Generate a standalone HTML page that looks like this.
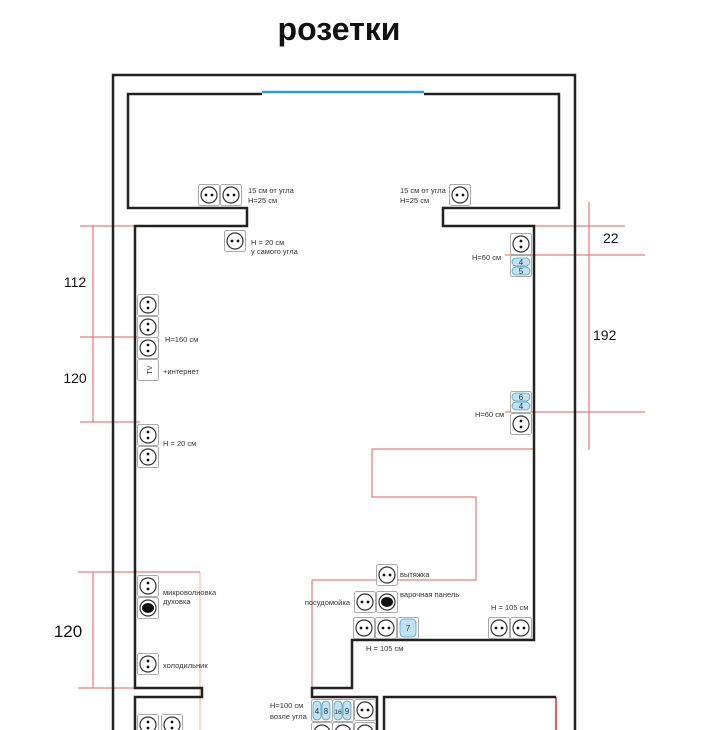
<!DOCTYPE html>
<html><head><meta charset="utf-8"><style>
html,body{margin:0;padding:0;background:#fff}
svg{display:block}
text{font-family:"Liberation Sans",sans-serif;fill:#333}
</style></head><body>
<svg width="720" height="730" viewBox="0 0 720 730" xmlns="http://www.w3.org/2000/svg">
<defs>
<g id="oh"><rect x="0.5" y="0.5" width="21" height="21" rx="2" fill="#fff" stroke="#aaa" stroke-width="1"/><circle cx="11" cy="11" r="8" fill="none" stroke="#333" stroke-width="1.2"/><circle cx="8" cy="11" r="1.4" fill="#111"/><circle cx="14" cy="11" r="1.4" fill="#111"/></g>
<g id="ov"><rect x="0.5" y="0.5" width="21" height="21" rx="2" fill="#fff" stroke="#aaa" stroke-width="1"/><circle cx="11" cy="11" r="8" fill="none" stroke="#333" stroke-width="1.2"/><circle cx="11" cy="8" r="1.4" fill="#111"/><circle cx="11" cy="14" r="1.4" fill="#111"/></g>
<g id="ob"><rect x="0.5" y="0.5" width="21" height="21" rx="2" fill="#fff" stroke="#aaa" stroke-width="1"/><circle cx="11" cy="11" r="8" fill="none" stroke="#333" stroke-width="1.2"/><ellipse cx="11" cy="11" rx="6" ry="5" fill="#111"/></g>
</defs>
<text x="339" y="40" text-anchor="middle" font-size="32" font-weight="bold" style="fill:#111">розетки</text>

<!-- red dimension lines -->
<g stroke="#e06060" stroke-width="1" fill="none">
<line x1="93" y1="226" x2="93" y2="422"/>
<line x1="80" y1="226" x2="135" y2="226"/>
<line x1="80" y1="337" x2="140" y2="337"/>
<line x1="80" y1="422" x2="140" y2="422"/>
<line x1="93" y1="572" x2="93" y2="688"/>
<line x1="78" y1="572" x2="200" y2="572"/>
<line x1="78" y1="688" x2="145" y2="688"/>
<line x1="200" y1="572" x2="200" y2="730" stroke="#f0b0a0"/>
<line x1="589" y1="202" x2="589" y2="450"/>
<line x1="487" y1="226" x2="625" y2="226"/>
<line x1="505" y1="255" x2="645" y2="255"/>
<line x1="505" y1="412" x2="645" y2="412"/>
<polyline points="534,449 372,449 372,497 476,497 476,580 312,580 312,697"/>
<line x1="556" y1="697" x2="556" y2="730" stroke-width="2"/>
</g>
<text x="75" y="287" text-anchor="middle" font-size="14" style="fill:#111">112</text>
<text x="75" y="383" text-anchor="middle" font-size="14" style="fill:#111">120</text>
<text x="68" y="637" text-anchor="middle" font-size="17" style="fill:#111">120</text>
<text x="603" y="243" font-size="14" style="fill:#111">22</text>
<text x="593" y="340" font-size="14" style="fill:#111">192</text>

<!-- walls -->
<g stroke="#222" stroke-width="2.5" fill="none">
<polyline points="113,730 113,75 575,75 575,730"/>
<polyline points="262,94 128,94 128,208 247,208 247,226 135,226 135,688 202,688 202,697 135,697 135,730"/>
<polyline points="424,94 559,94 559,208 443,208 443,226 534,226 534,640 352,640 352,688 312,688 312,697 377,697 377,730"/>
<polyline points="384,730 384,697 556,697"/>
</g>
<line x1="262" y1="92" x2="424" y2="92" stroke="#3a9ad8" stroke-width="2.5"/>

<!-- top outlets -->
<use href="#oh" x="198" y="184"/><use href="#oh" x="220" y="184"/>
<text x="248" y="193" font-size="7.5">15 см от угла</text><text x="248" y="203" font-size="7.5">H=25 см</text>
<use href="#oh" x="449" y="184"/>
<text x="400" y="193" font-size="7.5">15 см от угла</text><text x="400" y="203" font-size="7.5">H=25 см</text>
<use href="#oh" x="224" y="230"/>
<text x="251" y="245" font-size="7.5">H = 20 см</text><text x="251" y="254" font-size="7.5">у самого угла</text>

<!-- right wall -->
<use href="#ov" x="510" y="233"/>
<rect x="510.5" y="255.5" width="21" height="21" rx="2" fill="#fff" stroke="#aaa"/>
<rect x="512" y="258" width="18" height="8" rx="4" fill="#bfe2f5" stroke="#5a9cc0" stroke-width=".8"/>
<rect x="512" y="267" width="18" height="8" rx="4" fill="#bfe2f5" stroke="#5a9cc0" stroke-width=".8"/>
<text x="521" y="265" font-size="8" text-anchor="middle">4</text><text x="521" y="274" font-size="8" text-anchor="middle">5</text>
<text x="472" y="260" font-size="7.5">H=60 см</text>
<rect x="510.5" y="391.5" width="21" height="21" rx="2" fill="#fff" stroke="#aaa"/>
<rect x="512" y="393" width="18" height="8" rx="4" fill="#bfe2f5" stroke="#5a9cc0" stroke-width=".8"/>
<rect x="512" y="402" width="18" height="8" rx="4" fill="#bfe2f5" stroke="#5a9cc0" stroke-width=".8"/>
<text x="521" y="400" font-size="8" text-anchor="middle">6</text><text x="521" y="409" font-size="8" text-anchor="middle">4</text>
<use href="#ov" x="510" y="413"/>
<text x="475" y="417" font-size="7.5">H=60 см</text>

<!-- left wall -->
<use href="#ov" x="137" y="294"/><use href="#ov" x="137" y="316"/><use href="#ov" x="137" y="337"/>
<rect x="137.5" y="359.5" width="21" height="21" rx="2" fill="#fff" stroke="#aaa"/>
<text x="0" y="0" font-size="7" transform="translate(152,370) rotate(-90)" text-anchor="middle">TV</text>
<text x="165" y="342" font-size="7.5">H=160 см</text>
<text x="163" y="374" font-size="7.5">+интернет</text>
<use href="#ov" x="137" y="424"/><use href="#ov" x="137" y="446"/>
<text x="163" y="446" font-size="7.5">H = 20 см</text>
<use href="#ov" x="137" y="575"/><use href="#ob" x="137" y="597"/>
<text x="163" y="595" font-size="7.5">микроволновка</text><text x="163" y="604" font-size="7.5">духовка</text>
<use href="#ov" x="137" y="653"/>
<text x="163" y="668" font-size="7.5">холодильник</text>
<use href="#ov" x="137" y="714"/><use href="#ov" x="161" y="714"/>

<!-- kitchen -->
<use href="#oh" x="376" y="564"/>
<text x="400" y="577" font-size="7.5">вытяжка</text>
<use href="#oh" x="354" y="591"/><use href="#ob" x="376" y="591"/>
<text x="350" y="605" font-size="7.5" text-anchor="end">посудомойка</text>
<text x="400" y="597" font-size="7.5">варочная панель</text>
<use href="#oh" x="353" y="617"/><use href="#oh" x="375" y="617"/>
<rect x="397.5" y="617.5" width="21" height="21" rx="2" fill="#fff" stroke="#aaa"/>
<rect x="400" y="619" width="16" height="18" rx="4" fill="#bfe2f5" stroke="#5a9cc0" stroke-width=".8"/>
<text x="408" y="631" font-size="8" text-anchor="middle">7</text>
<text x="366" y="651" font-size="7.5">H = 105 см</text>
<use href="#oh" x="488" y="617"/><use href="#oh" x="510" y="617"/>
<text x="491" y="610" font-size="7.5">H = 105 см</text>

<!-- bottom cluster -->
<text x="270" y="708" font-size="7.5">H=100 см</text><text x="270" y="719" font-size="7.5">возле угла</text>
<rect x="311.5" y="699.5" width="21" height="22" rx="2" fill="#fff" stroke="#aaa"/>
<rect x="313" y="701" width="8" height="19" rx="4" fill="#bfe2f5" stroke="#5a9cc0" stroke-width=".8"/>
<rect x="322" y="701" width="8" height="19" rx="4" fill="#bfe2f5" stroke="#5a9cc0" stroke-width=".8"/>
<text x="317" y="714" font-size="8" text-anchor="middle">4</text><text x="326" y="714" font-size="8" text-anchor="middle">8</text>
<rect x="332.5" y="699.5" width="21" height="22" rx="2" fill="#fff" stroke="#aaa"/>
<rect x="334" y="701" width="8" height="19" rx="4" fill="#bfe2f5" stroke="#5a9cc0" stroke-width=".8"/>
<rect x="343" y="701" width="8" height="19" rx="4" fill="#bfe2f5" stroke="#5a9cc0" stroke-width=".8"/>
<text x="338" y="714" font-size="6.5" text-anchor="middle">16</text><text x="347" y="714" font-size="8" text-anchor="middle">9</text>
<use href="#oh" x="354" y="699"/>
<use href="#oh" x="311" y="722"/><use href="#oh" x="332" y="722"/><use href="#oh" x="354" y="722"/>
</svg>
</body></html>
